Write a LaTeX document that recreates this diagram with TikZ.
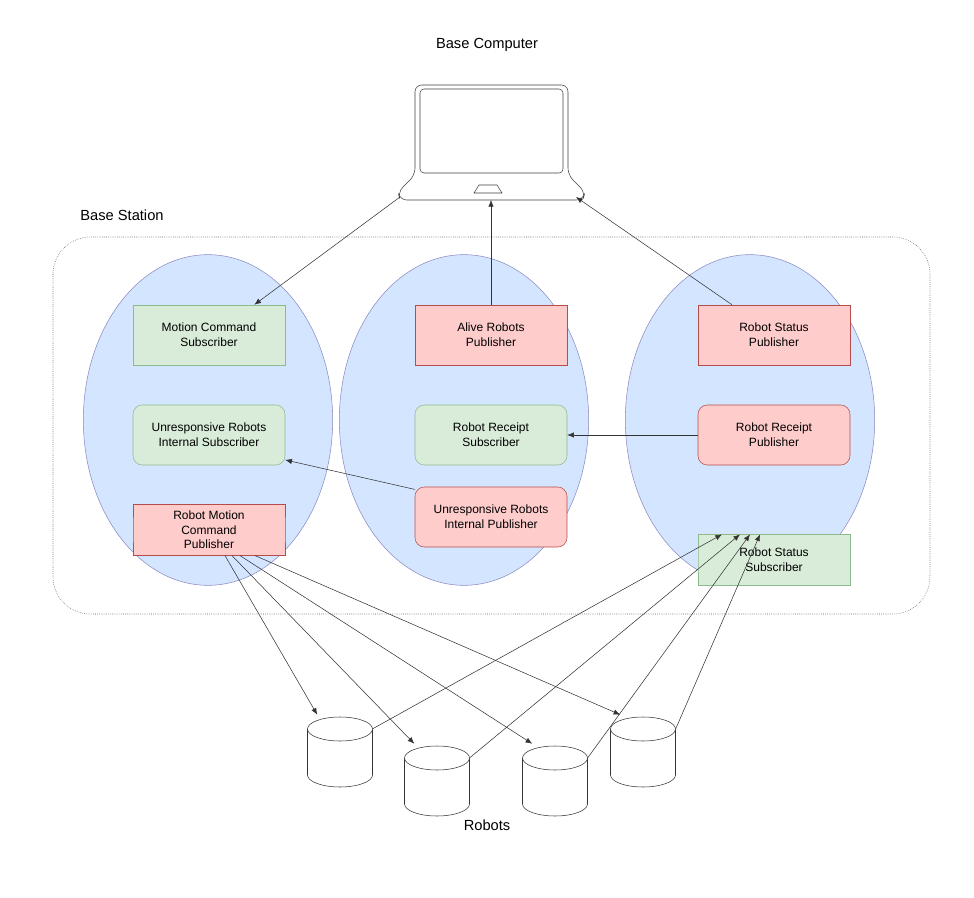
\documentclass[tikz,border=0pt]{standalone}
\usepackage{fontspec}
\setmainfont{Liberation Sans}
\usetikzlibrary{shapes.geometric,shapes.symbols,arrows.meta}
\colorlet{pub fill}{red!20}
\colorlet{pub edge}{red!60!black!70}
\colorlet{sub fill}{green!50!black!15}
\colorlet{sub edge}{green!40!black!45}
\colorlet{group fill}{blue!60!cyan!17}
\tikzset{
  every node/.style={font=\fontsize{9}{11}\selectfont, align=center},
  box/.style={rectangle, minimum width=114pt, minimum height=45pt, inner sep=1pt},
  pub/.style={box, fill=pub fill, draw=pub edge},
  sub/.style={box, fill=sub fill, draw=sub edge},
  soft/.style={rounded corners=7pt},
  hexa/.style={signal, signal to={east,west}, signal pointer angle=126,
    minimum width=114pt, minimum height=38pt, inner sep=0pt},
  group/.style={ellipse, fill=group fill, draw=blue!30!gray!70, minimum width=187pt, minimum height=248pt},
  robot/.style={rectangle, minimum width=48.75pt, minimum height=52.5pt, inner sep=0pt},
  link/.style={draw=black!80, -{Latex[length=5pt,width=4pt]}}
  }
\begin{document}
\begin{tikzpicture}[x=0.75pt, y=-0.75pt]
    \useasboundingbox[fill=white] (0,0) rectangle (974,898);

    % Titles
    \node (computer title) at (487,45) {\fontsize{11}{13}\selectfont Base Computer};
    \node (station title) at (122,215) {\fontsize{11}{13}\selectfont Base Station};
    \node (robots title) at (487,825) {\fontsize{11}{13}\selectfont Robots};

    % The laptop
    \draw[black!75, rounded corners=5pt] (400,200) -- (398,192) -- (415,175) -- (415,85) -- (568,85) -- (568,175) -- (585,192) -- (583,200) -- cycle;
    \draw[black!75, rounded corners=3pt] (420,89) rectangle (563,173);
    \draw[black!75] (479,185) -- (497,185) -- (502,193) -- (474,193) -- cycle;
    \coordinate (lap left) at (400,197);
    \coordinate (lap mid) at (491,200);
    \coordinate (lap right) at (576,197);

    % The station
    \draw[black!70, densely dotted, rounded corners=28pt] (53,237) rectangle (930,614);
    \foreach \pos/\name in {{(208,420)/left}, {(464,420)/mid}, {(750,420)/right}}
      \node[group] (\name) at \pos {};

    % Publishers and subscribers
    \node[sub] (motion sub) at (209,335) {Motion Command\\Subscriber};
    \node[sub, soft] (unresp sub) at (209,435) {Unresponsive Robots\\Internal Subscriber};
    \node[hexa, fill=pub fill, draw=pub edge] (motion pub) at (209,530) {Robot Motion\\Command\\Publisher};
    \node[pub] (alive pub) at (491,335) {Alive Robots\\Publisher};
    \node[sub, soft] (receipt sub) at (491,435) {Robot Receipt\\Subscriber};
    \node[pub, soft] (unresp pub) at (491,517) {Unresponsive Robots\\Internal Publisher};
    \node[pub] (status pub) at (774,335) {Robot Status\\Publisher};
    \node[pub, soft] (receipt pub) at (774,435) {Robot Receipt\\Publisher};
    \node[hexa, fill=sub fill, draw=sub edge] (status sub) at (774,560) {Robot Status\\Subscriber};

    % The robots
    \foreach \x/\t/\name in {340/717/r1, 437/746/r2, 555/746/r3, 643/717/r4} {
      \node[robot] (\name) at (\x,\t+35) {};
      \draw[black!80, fill=white] (\x-32.5,\t+12) -- (\x-32.5,\t+58) arc (180:0:32.5 and 12) -- (\x+32.5,\t+12);
      \draw[black!80, fill=white] (\x,\t+12) ellipse (32.5 and 12);
    }

    % Links to the computer
    \path[link] (lap left) -- ([xshift=34pt]motion sub.north);
    \path[link] (alive pub) -- (lap mid);
    \path[link] ([xshift=-31.5pt]status pub.north) -- (lap right);
    \path[link] (receipt pub) -- (receipt sub);
    \path[link] ([yshift=-2pt]unresp pub.north west) -- ([yshift=4pt]unresp sub.south east);

    % Commands out, status in
    \foreach \dx/\sink in {16/r1, 23/r2, 31/r3, 46/r4}
      \path[link] ([xshift=\dx*0.75pt]motion pub.south) -- ([xshift=7.5pt,yshift=1.5pt]\sink.north west);
    \foreach \source/\dx in {r1/-52, r2/-34, r3/-24, r4/-14}
      \path[link] ([yshift=-9pt]\source.north east) -- ([xshift=\dx*0.75pt]status sub.north);
\end{tikzpicture}
\end{document}
